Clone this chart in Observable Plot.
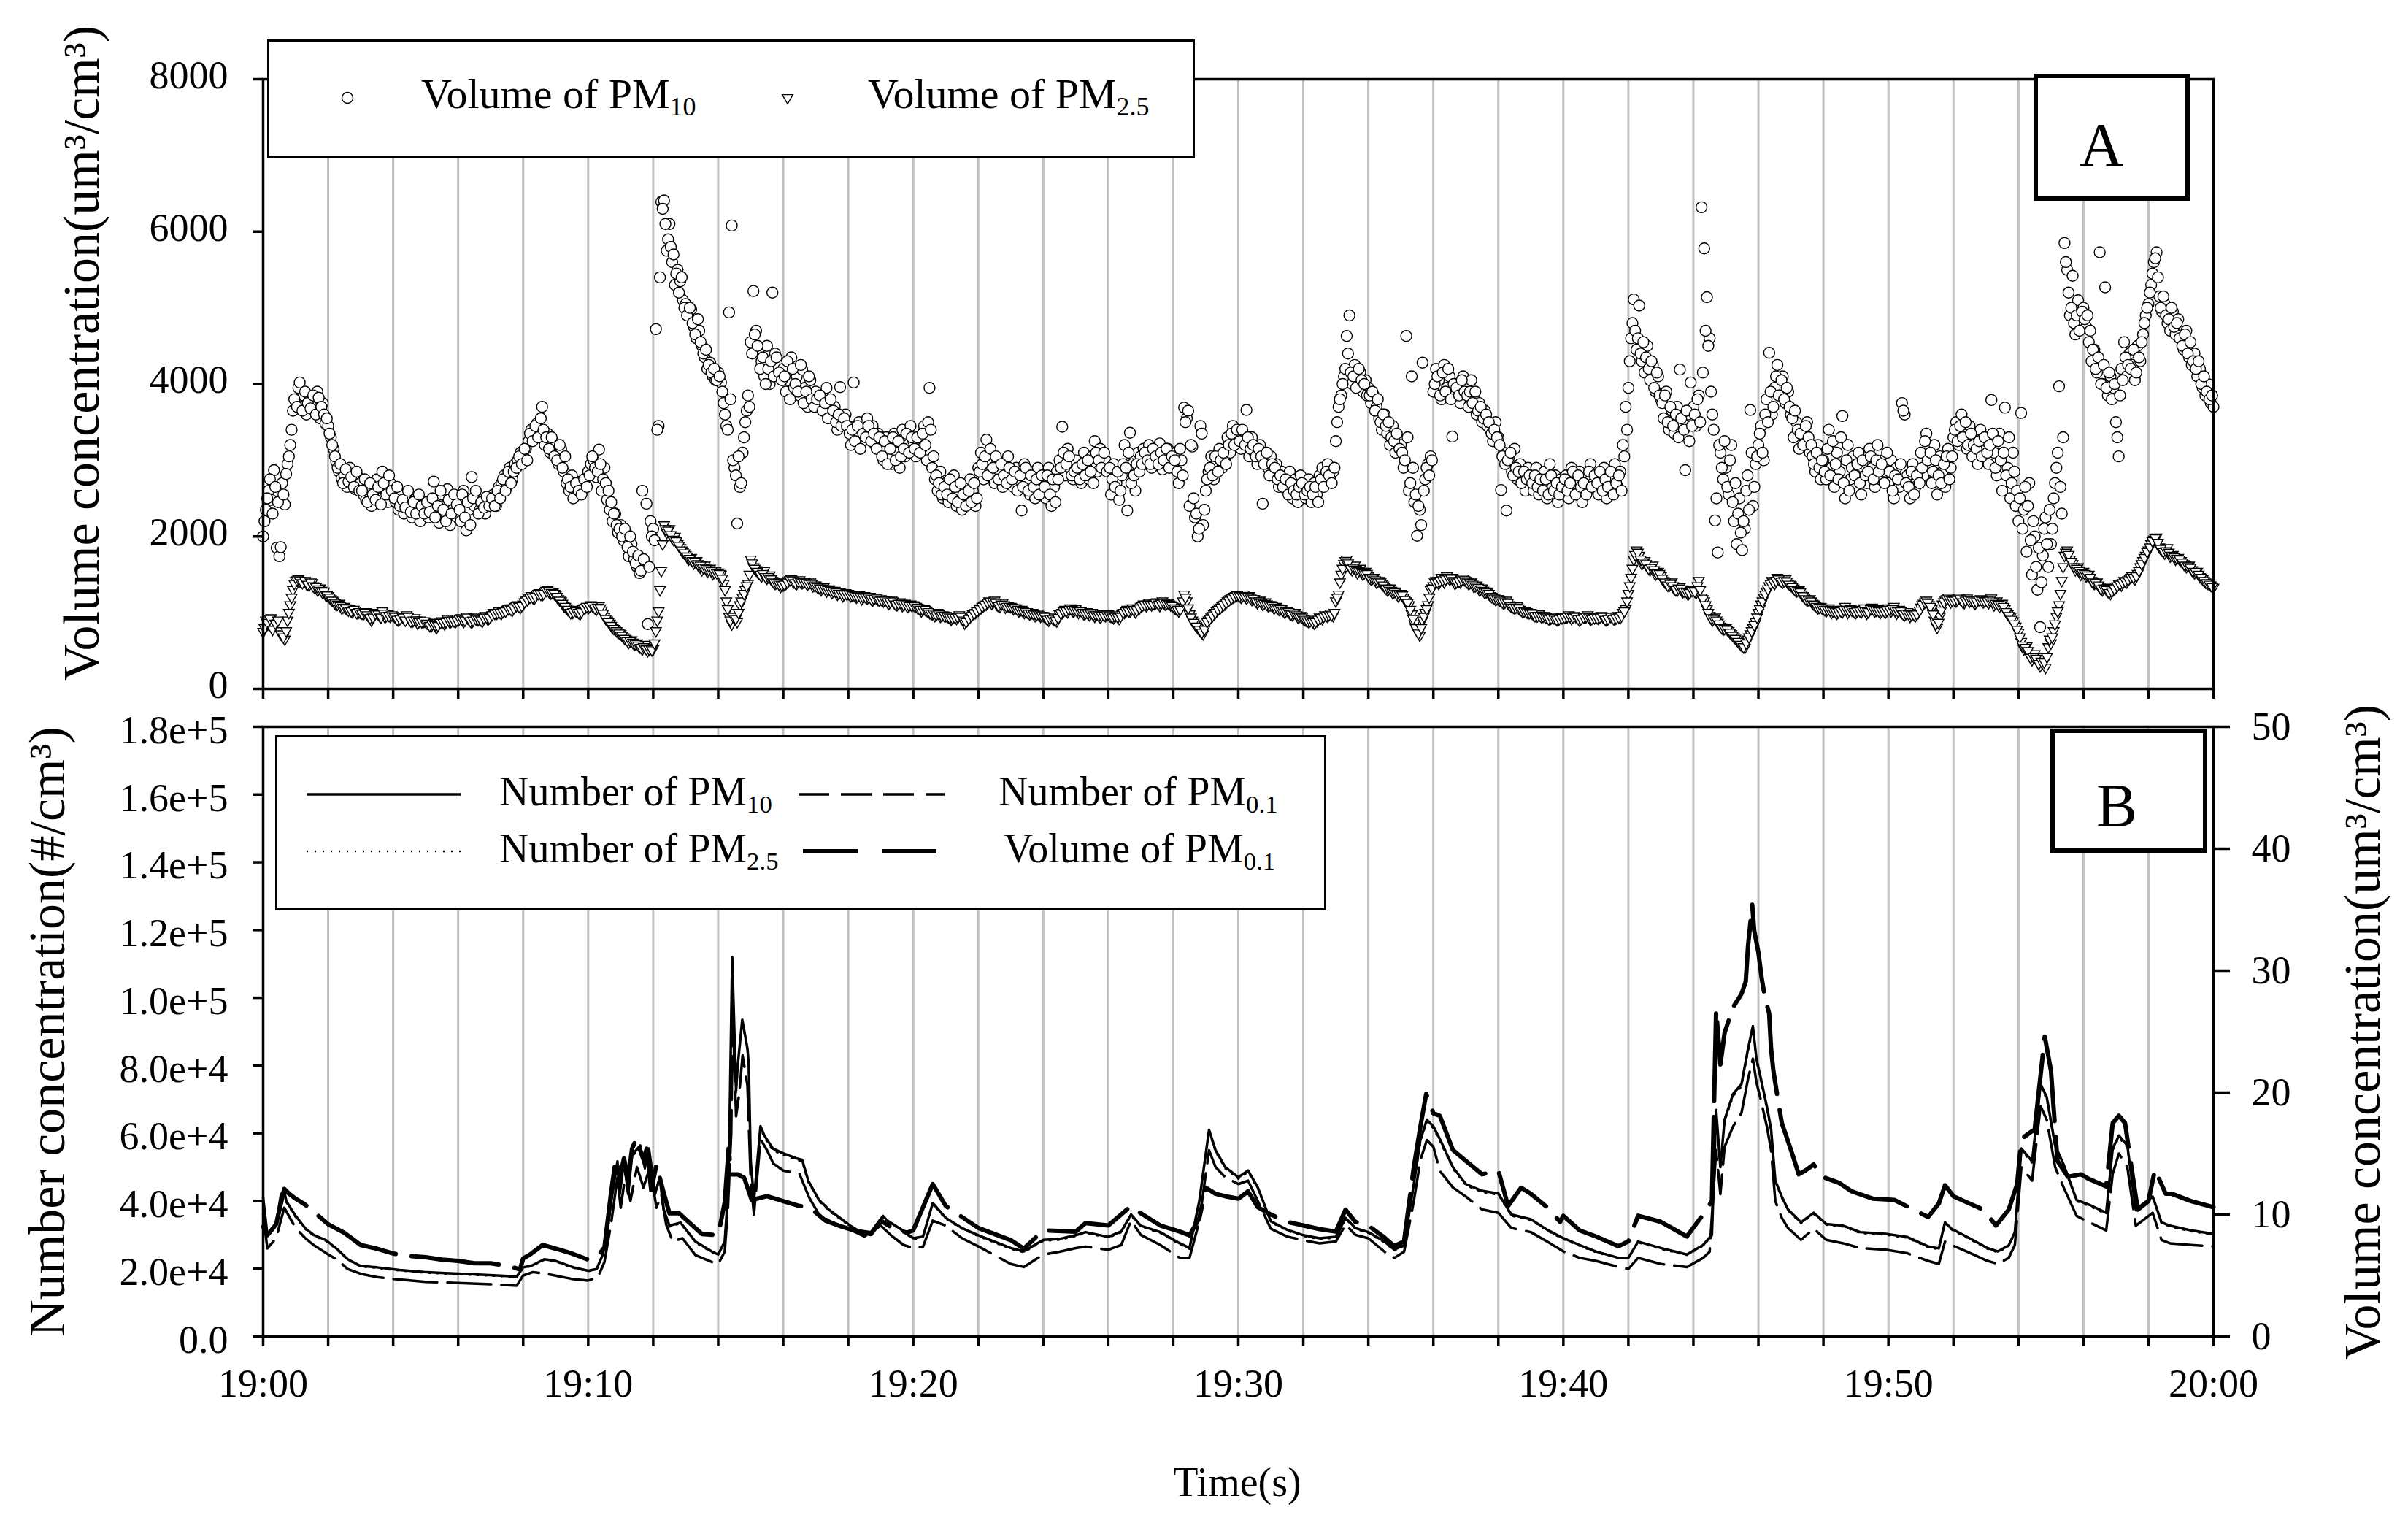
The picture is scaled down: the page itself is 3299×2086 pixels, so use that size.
<!DOCTYPE html>
<html>
<head>
<meta charset="utf-8">
<script src="https://cdn.jsdelivr.net/npm/d3@7"></script>
<script src="https://cdn.jsdelivr.net/npm/@observablehq/plot@0.6"></script>
<style>
  html, body { margin: 0; padding: 0; background: #fff; }
  #wrap { position: relative; width: 3299px; height: 2086px; background: #fff; font-family: "Liberation Serif", "Times New Roman", serif; color: #000; overflow: hidden; }
  #wrap svg, #wrap svg text { font-family: "Liberation Serif", "Times New Roman", serif !important; }
  .abs { position: absolute; white-space: nowrap; }
  .box { position: absolute; box-sizing: border-box; background: #fff; }
  sub { font-size: 0.62em; vertical-align: -0.28em; line-height: 0; }
  .rot { position: absolute; white-space: nowrap; transform: translate(-50%, -50%) rotate(-90deg); line-height: 1; }
</style>
</head>
<body>
<div id="wrap">
  <div id="panelA" class="abs" style="left:0;top:0"></div>
  <div id="panelB" class="abs" style="left:0;top:960px"></div>

  <div class="box" style="left:366px;top:54px;width:1271px;height:162px;border:3px solid #000"></div>
  <div class="box" style="left:2786px;top:101px;width:214px;height:174px;border:6px solid #000"></div>
  <div class="box" style="left:377px;top:1007px;width:1440px;height:240px;border:3px solid #000"></div>
  <div class="box" style="left:2809px;top:998px;width:215px;height:170px;border:6px solid #000"></div>

  <svg id="legendSym" class="abs" style="left:0;top:0" width="3299" height="2086"></svg>

  <div class="abs" style="left:577px;top:100px;font-size:58px;line-height:58px">Volume of PM<sub>10</sub></div>
  <div class="abs" style="left:1189px;top:100px;font-size:58px;line-height:58px">Volume of PM<sub>2.5</sub></div>
  <div class="abs" style="left:2772px;top:157px;width:214px;text-align:center;font-size:84px;line-height:84px">A</div>

  <div class="abs" style="left:684px;top:1056px;font-size:56px;line-height:56px">Number of PM<sub>10</sub></div>
  <div class="abs" style="left:684px;top:1134px;font-size:56px;line-height:56px">Number of PM<sub>2.5</sub></div>
  <div class="abs" style="left:1368px;top:1056px;font-size:56px;line-height:56px">Number of PM<sub>0.1</sub></div>
  <div class="abs" style="left:1375px;top:1134px;font-size:56px;line-height:56px">Volume of PM<sub>0.1</sub></div>
  <div class="abs" style="left:2793px;top:1062px;width:214px;text-align:center;font-size:84px;line-height:84px">B</div>

  <div class="rot" style="left:112px;top:484px;font-size:70px">Volume concentration(um³/cm³)</div>
  <div class="rot" style="left:65px;top:1413px;font-size:70px">Number concentration(#/cm³)</div>
  <div class="rot" style="left:3237px;top:1414px;font-size:70px">Volume concentration(um³/cm³)</div>
  <div class="abs" style="left:1695px;top:2030px;transform:translate(-50%,-50%);font-size:56px;line-height:1">Time(s)</div>
</div>

<script>
// ---------------- tick labels ----------------
const xTickMinutes = [0,2,4,6,8,10,12,14,16,18,20,22,24,26,28,30,32,34,36,38,40,42,44,46,48,50,52,54,56,58,60];
const xLabelMinutes = [0,10,20,30,40,50,60];
const xTickLabels = ["19:00","19:10","19:20","19:30","19:40","19:50","20:00"];
const yTicksA = [0,2000,4000,6000,8000];
const yTickLabelsA = ["0","2000","4000","6000","8000"];
const yTicksB = [0,20000,40000,60000,80000,100000,120000,140000,160000,180000];
const yTickLabelsB = ["0.0","2.0e+4","4.0e+4","6.0e+4","8.0e+4","1.0e+5","1.2e+5","1.4e+5","1.6e+5","1.8e+5"];
const yTicksR = [0,10,20,30,40,50];
const yTickLabelsR = ["0","10","20","30","40","50"];

// ---------------- Panel A: volume concentration (um3/cm3) ----------------
// readings every 5 s from 19:00:00 (one row per minute)
const volPM10 = [
2000,2350,2600,2480,2870,1850,1740,2700,2420,2950,3200,3650,
3800,3950,3700,3850,3600,3780,3700,3650,3900,3550,3750,3480,
3450,3300,3150,2980,2850,2760,2800,2650,2900,2700,2620,2780,
2700,2550,2480,2650,2400,2600,2750,2500,2850,2620,2450,2700,
2600,2450,2350,2550,2300,2500,2400,2250,2480,2350,2200,2420,
2380,2250,2450,2720,2300,2180,2550,2400,2620,2150,2350,2500,
2450,2200,2600,2080,2350,2780,2400,2500,2350,2450,2300,2480,
2450,2550,2400,2650,2700,2800,2650,2900,2750,2950,3000,3100,
3050,3150,3250,3400,3350,3480,3300,3700,3200,3350,3100,3250,
3100,2950,3150,2850,2700,2600,2800,2550,2650,2720,2600,2700,
2850,2950,3000,2780,3140,2600,2900,2480,2350,2200,2300,2050,
2150,1950,2050,1740,1900,1700,1600,1520,2600,1650,850,2200,
2100,4720,3450,6390,6410,5750,6100,5600,5300,5500,5350,5100,
5050,4900,4980,4750,4600,4700,4500,4350,4200,4280,4100,4050,
4150,4020,3750,3450,4940,6080,2900,2170,2650,3100,3500,3850,
4550,5220,4700,4450,4300,4100,4500,4000,5200,4400,4250,4100,
4200,3900,4050,4350,3950,4100,3850,4190,3950,3700,4050,3850,
3900,3700,3800,3650,3950,3600,3550,3700,3400,3960,3500,3600,
3450,3200,4020,3300,3500,3250,3400,3550,3300,3450,3200,3350,
3150,3000,3300,3050,2950,3350,3100,2900,3400,3050,3200,3450,
3250,3050,3300,3150,3450,3000,3950,2900,2750,2600,2850,2500,
2700,2450,2600,2800,2400,2550,2350,2650,2480,2750,2600,2400,
2900,3100,2750,3270,2950,2800,2700,3000,2850,2650,2950,3050,
2800,2650,2900,2750,2340,2950,2700,2550,2850,2500,2900,2650,
2750,2500,2900,2400,2650,2850,3000,3440,2800,3150,2900,2750,
3000,2850,2700,3100,2900,2750,3050,3250,2850,3150,2950,3000,
2850,2550,2950,2700,2480,2800,3200,2340,3360,2950,2600,3100,
3050,3150,2950,3200,2900,3100,3000,3220,2880,3050,3150,2950,
2900,3100,2700,3000,3690,3550,2400,3180,2250,2000,3450,2150,
2600,2850,3050,2750,2950,3150,2900,3000,3300,3100,3450,3250,
3350,3150,3250,3660,3050,3300,3100,2950,3200,2430,3000,2900,
3050,2800,2950,2650,2850,2700,2600,2850,2500,2750,2450,2800,
2650,2500,2750,2450,2700,2550,2800,2900,2700,2950,2750,2850,
3250,3700,3850,4100,4630,4900,4000,4250,3950,4150,3900,4050,
3950,3750,3850,3700,3550,3400,3600,3350,3200,3450,3100,3300,
3200,2900,4630,2600,4100,2450,2010,2350,4280,2750,2950,3050,
3900,4200,4050,3800,4250,3950,4100,3310,3850,4000,3750,4100,
3950,3700,4050,3800,3600,3750,3500,3650,3450,3400,3250,3500,
3300,2610,3100,2340,3000,2850,3150,2750,2950,2800,2600,2900,
2750,2600,2900,2550,2700,2850,2500,2950,2650,2800,2450,2750,
2650,2800,2500,2900,2700,2550,2850,2450,2750,2600,2950,2700,
2800,2550,2700,2900,2500,2750,2600,2950,2650,2850,3200,3700,
3950,4600,5110,4450,5030,4300,4150,4500,4050,4250,3900,4100,
3800,3550,3900,3400,3650,3350,3700,4190,3500,2870,3600,4020,
3700,3450,3850,6320,5780,5140,4600,3600,2210,1790,3100,2750,
2900,2550,3200,2200,1900,2500,1820,2100,2800,3660,2400,2950,
3200,3450,3000,3800,4410,3600,3950,4250,3850,4100,3750,3900,
3600,3300,3500,3150,3400,3250,3500,3100,3050,2850,3200,2750,
3000,2750,3400,2900,2650,3100,2850,3580,2500,3200,2750,3050,
2800,3100,2550,2950,2700,3150,2900,2650,3200,2750,3000,2850,
2700,3000,2500,2900,2650,3750,3600,2800,2500,2950,2650,2850,
3100,2800,3350,2950,2700,3200,2550,3050,2850,2650,3150,2900,
3300,3500,3200,3600,3350,3150,3450,3050,3300,2950,3400,3150,
3250,2950,3790,3100,2800,3350,2600,3690,2900,2500,3100,2400,
2200,3620,2350,1800,2700,1500,2000,1300,810,1750,2250,1600,
1900,2500,2900,3970,2300,5850,5500,4900,5420,4650,5100,4800,
5000,4750,4550,4300,4450,4150,5730,4000,5270,3850,4100,3950,
3500,3050,4200,4550,4100,4400,4250,4050,4500,4300,4650,4900,
5050,5300,5600,5730,5150,4950,5050,4800,4700,4950,4650,4850,
4600,4450,4700,4350,4250,4400,4100,4200,3950,3850,4000,3750,
3700];
// readings in between (every 5 s from 19:00:02.5)
const volPM10mid = [
2200,2500,2750,2300,2650,2450,1860,2550,2820,3050,3400,3800,
3700,4020,3650,3900,3750,3680,3850,3600,3820,3700,3600,3550,
3350,3200,3050,2900,2950,2700,2880,2720,2780,2650,2850,2600,
2600,2750,2450,2700,2550,2480,2650,2420,2700,2550,2800,2600,
2500,2650,2400,2480,2380,2600,2320,2450,2300,2550,2400,2300,
2450,2320,2500,2250,2400,2600,2350,2200,2480,2300,2550,2420,
2350,2550,2250,2450,2150,2500,2600,2300,2450,2380,2520,2400,
2500,2400,2600,2500,2750,2600,2850,2700,2850,2900,3050,2950,
3150,3000,3350,3250,3450,3300,3550,3400,3300,3150,3300,3050,
3000,3200,2900,3050,2750,2650,2500,2700,2600,2550,2750,2650,
2800,3050,2900,2850,2950,2750,2700,2600,2450,2300,2150,2100,
2000,2100,1860,2000,1800,1650,1750,1550,1700,2430,1600,2000,
1950,3400,5400,6300,6100,5900,5800,5700,5450,5200,5400,5000,
4900,5000,4800,4650,4850,4550,4400,4450,4250,4150,4200,4050,
4100,3900,3600,3400,3800,3000,2800,3050,2700,3300,3650,3700,
4400,4650,4500,4200,4350,4000,4200,4300,4100,4350,4150,4050,
4100,4300,3800,4200,4000,3900,4250,3750,3900,4100,3800,3700,
3800,3850,3650,3750,3550,3800,3650,3500,3600,3450,3550,3450,
3350,3400,3250,3450,3150,3350,3300,3450,3250,3350,3150,3300,
3050,3250,2950,3150,3300,3000,3250,3050,3150,3350,3100,3300,
3150,3300,3100,3350,3200,3500,3400,3050,2800,2700,2550,2650,
2550,2750,2500,2650,2450,2700,2550,2400,2600,2450,2700,2500,
2850,2950,3050,2800,3150,2900,3050,2750,2950,2800,2700,2900,
2750,2850,2600,2800,2650,2900,2600,2800,2650,2750,2550,2800,
2650,2800,2550,2750,2450,2750,2900,3100,2950,3050,2800,2850,
2900,2750,2950,2800,3000,2850,2700,3100,3000,2900,3100,2850,
2900,2750,2650,2850,2600,2950,2900,3100,2700,2800,2950,2850,
2950,3100,3000,2950,3150,3050,2950,3100,3000,3150,2900,3050,
3000,2850,3150,2800,3500,3650,3200,2500,2300,2100,3350,2350,
2750,2900,2800,3050,2850,3000,3100,2950,3200,3350,3200,3400,
3250,3400,3200,3300,3150,3200,3050,3150,3050,2950,3100,2800,
2950,2900,2750,2800,2650,2750,2550,2700,2600,2550,2650,2700,
2550,2600,2650,2550,2650,2450,2750,2650,2850,2800,2700,2900,
3500,3800,4000,4200,4400,4150,4100,3950,4200,4050,4000,3850,
3850,3900,3650,3800,3500,3600,3450,3500,3300,3250,3350,3150,
3100,3000,3300,2700,2900,2550,2400,2150,2600,2900,2800,3000,
4000,4100,3850,4150,3900,4200,3800,4000,3950,3850,4050,3900,
3850,3900,3750,3900,3650,3700,3550,3600,3500,3350,3400,3300,
3200,3050,2950,3000,3100,2800,2900,2850,2700,2850,2750,2800,
2700,2800,2650,2750,2600,2750,2550,2800,2600,2700,2550,2650,
2750,2600,2700,2850,2550,2800,2650,2700,2550,2850,2650,2800,
2700,2850,2600,2750,2650,2850,2550,2700,2800,2600,3050,3400,
4300,4800,4700,4600,4400,4550,4350,4200,4300,3950,4150,3850,
3750,3850,3500,3700,3450,3600,3300,3550,3400,3650,3250,3450,
3600,3800,3500,4150,4700,4500,3900,3400,2500,3200,2900,3250,
2650,3000,2450,2700,2300,2050,2200,2600,2350,3100,2650,3050,
3350,3100,3600,3500,3900,3700,4100,3850,4050,3800,3950,3700,
3550,3650,3400,3350,3200,3450,3300,3200,2950,3100,2900,3000,
2850,3150,2800,3250,2950,2750,3300,2700,3000,2600,2900,2800,
2950,2700,3000,2800,2850,3050,2750,3000,2850,2950,2700,3100,
2850,2600,2800,2750,2950,3650,2700,2650,2850,2550,2800,2700,
2900,3250,3000,3100,2850,3000,2800,2700,2950,3050,2750,3050,
3400,3250,3450,3300,3500,3200,3350,3200,3150,3250,3050,3300,
3100,3200,3350,2900,3250,3000,3100,2800,3300,2700,2850,2600,
2500,2100,2650,2400,1950,2200,1600,1850,1400,2100,1900,2350,
2100,2700,3100,2650,3300,5600,5200,5000,4800,4900,4700,4950,
4850,4900,4700,4450,4200,4350,4000,4250,3950,4150,3800,4000,
3300,3850,4050,4350,4250,4200,4450,4150,4350,4550,4800,5000,
5200,5450,5650,5400,5000,5150,4900,4850,5000,4750,4800,4600,
4500,4650,4400,4550,4300,4200,4300,4000,4100,3900,3800,3850];

const volPM25 = [
750,900,850,930,820,880,760,700,650,900,1100,1300,
1420,1440,1400,1410,1380,1360,1390,1330,1300,1320,1260,1240,
1220,1180,1150,1100,1120,1060,1080,1040,1050,1010,1030,990,
1000,980,1010,950,900,970,1000,960,1020,940,980,950,
960,930,900,950,920,970,910,880,930,860,900,870,
880,850,820,870,800,860,890,850,920,870,900,880,
900,930,880,950,910,870,940,900,920,890,960,910,
950,1000,980,1020,990,1030,1040,1060,1030,1080,1100,1070,
1110,1160,1190,1220,1180,1240,1260,1230,1280,1300,1250,1270,
1230,1180,1150,1090,1060,1020,990,1040,1010,980,1050,1070,
1060,1100,1080,1040,1090,1030,950,900,860,800,780,740,
720,680,650,610,640,580,600,550,520,580,500,540,
520,760,1020,1550,2150,2050,2100,1980,2000,1900,1850,1800,
1760,1700,1720,1650,1680,1600,1560,1620,1540,1580,1510,1550,
1530,1500,1380,1150,950,850,1000,880,1100,1200,1300,1380,
1700,1600,1560,1520,1480,1550,1450,1490,1420,1380,1400,1340,
1360,1380,1420,1440,1400,1380,1430,1390,1410,1370,1400,1350,
1360,1330,1300,1340,1280,1310,1260,1290,1240,1270,1220,1260,
1250,1220,1240,1200,1230,1180,1220,1190,1210,1160,1200,1170,
1180,1150,1170,1120,1160,1130,1100,1140,1090,1120,1080,1110,
1100,1080,1060,1020,1050,1030,1000,980,960,1000,950,970,
960,940,910,950,920,970,930,860,900,940,980,1000,
1030,1060,1090,1110,1150,1120,1160,1100,1080,1130,1070,1090,
1080,1050,1060,1020,1040,1000,1010,980,1000,960,990,950,
960,930,900,940,910,890,980,1000,1040,1010,1060,1020,
1050,1000,1030,980,1010,970,1000,950,990,940,980,960,
980,950,930,970,920,990,1000,1040,1020,1060,1010,1050,
1080,1110,1090,1130,1100,1120,1140,1090,1150,1110,1130,1100,
1080,1050,1020,1070,1240,1150,980,900,850,800,760,720,
850,900,940,980,1020,1060,1090,1110,1150,1180,1200,1220,
1230,1200,1240,1190,1220,1170,1180,1130,1160,1110,1140,1090,
1100,1070,1080,1040,1050,1010,1030,990,970,1000,940,960,
920,900,880,910,860,890,940,920,970,950,990,960,
1150,1240,1500,1640,1700,1600,1560,1620,1520,1580,1500,1540,
1480,1440,1460,1400,1420,1380,1340,1300,1320,1260,1280,1220,
1250,1200,1150,1100,980,850,760,700,900,1000,1100,1300,
1350,1420,1380,1460,1400,1480,1440,1460,1380,1420,1400,1450,
1420,1380,1400,1340,1360,1300,1320,1260,1280,1220,1200,1170,
1180,1150,1120,1160,1100,1080,1060,1090,1040,1010,1030,990,
1000,970,950,980,940,960,930,910,950,920,900,940,
950,930,970,920,960,940,900,950,930,970,910,940,
950,920,960,930,900,950,940,910,960,930,1000,1050,
1250,1460,1700,1820,1750,1640,1680,1600,1560,1620,1500,1540,
1480,1420,1380,1350,1400,1310,1290,1340,1270,1300,1240,1280,
1300,1260,1420,1200,1150,1050,960,900,940,870,820,780,
800,760,720,680,640,600,560,540,650,720,800,880,
1000,1110,1200,1280,1350,1420,1380,1460,1420,1400,1440,1380,
1360,1320,1280,1300,1240,1200,1160,1180,1120,1090,1060,1080,
1050,1020,1060,1000,1030,990,1040,1010,1080,1000,1050,1020,
1000,1040,1010,1060,990,1030,1070,1020,1050,1000,1040,1010,
1060,1020,1080,990,1040,1000,970,1010,950,990,960,1000,
1070,1120,1160,1100,1050,900,805,950,1110,1160,1200,1140,
1180,1150,1200,1160,1130,1190,1150,1170,1120,1160,1180,1140,
1170,1130,1190,1100,1150,1080,1120,1050,980,940,890,820,
740,620,520,560,440,380,460,360,300,420,280,550,
600,760,950,1100,1420,1750,1820,1700,1640,1560,1600,1500,
1540,1480,1500,1420,1380,1400,1330,1300,1330,1280,1250,1300,
1330,1380,1360,1420,1400,1450,1480,1440,1510,1600,1680,1750,
1820,1900,1960,1990,1860,1820,1780,1850,1740,1760,1700,1720,
1680,1640,1600,1620,1560,1520,1540,1470,1440,1400,1380,1360,
1330];
const volPM25mid = [
800,870,920,780,860,900,720,680,760,1000,1200,1380,
1430,1420,1390,1420,1370,1400,1350,1340,1310,1290,1280,1230,
1200,1160,1130,1110,1090,1070,1060,1030,1020,1040,1000,1010,
990,1000,970,930,940,990,980,940,990,960,960,970,
950,910,920,940,900,950,890,900,900,880,880,890,
860,830,850,840,830,870,870,880,900,890,890,900,
920,910,900,930,890,900,920,910,900,930,940,930,
970,990,1000,1000,1010,1020,1050,1040,1060,1090,1080,1090,
1140,1170,1200,1200,1210,1250,1240,1250,1290,1280,1260,1250,
1210,1160,1120,1080,1040,1000,1010,1020,1000,1010,1060,1080,
1080,1090,1060,1070,1060,990,920,880,830,790,760,730,
700,660,630,630,610,590,570,540,550,520,520,510,
600,900,1300,1900,2100,2080,2020,1960,1940,1880,1820,1780,
1740,1710,1680,1670,1640,1620,1590,1580,1560,1550,1530,1520,
1510,1450,1300,1050,900,950,920,1000,1150,1250,1350,1500,
1650,1580,1540,1500,1510,1470,1470,1440,1400,1390,1370,1360,
1370,1400,1430,1420,1390,1410,1400,1400,1390,1380,1380,1360,
1340,1320,1320,1310,1300,1290,1280,1270,1250,1250,1240,1240,
1240,1230,1220,1210,1210,1200,1200,1200,1180,1180,1190,1160,
1160,1160,1140,1140,1150,1110,1120,1120,1100,1100,1090,1090,
1090,1070,1040,1040,1040,1010,990,990,970,980,960,960,
950,930,930,930,940,950,900,880,920,960,990,1020,
1050,1080,1100,1130,1140,1140,1130,1090,1110,1100,1080,1080,
1070,1060,1040,1030,1020,1010,990,990,980,970,970,960,
950,910,920,920,900,930,990,1020,1020,1040,1040,1030,
1020,1020,1000,990,990,990,970,970,960,960,960,970,
960,940,950,940,950,1000,1020,1020,1040,1030,1030,1060,
1090,1100,1110,1110,1110,1130,1110,1120,1130,1120,1110,1090,
1060,1040,1040,1150,1200,1060,940,870,820,780,740,780,
880,920,960,1000,1040,1070,1100,1130,1160,1190,1210,1230,
1220,1220,1210,1210,1190,1180,1150,1150,1130,1120,1110,1100,
1090,1070,1060,1050,1030,1020,1010,980,990,970,950,940,
910,890,890,880,880,910,930,950,960,970,970,1000,
1200,1400,1580,1680,1650,1580,1590,1570,1550,1540,1520,1510,
1460,1450,1430,1410,1400,1360,1320,1310,1290,1270,1250,1240,
1230,1170,1130,1040,920,800,730,800,950,1050,1200,1320,
1400,1400,1420,1430,1440,1460,1450,1420,1400,1410,1430,1430,
1400,1390,1370,1350,1330,1310,1290,1270,1250,1210,1190,1180,
1160,1140,1140,1130,1090,1070,1070,1060,1030,1020,1010,1000,
990,960,960,960,950,940,920,930,930,910,920,930,
940,950,950,940,950,920,920,940,950,940,920,930,
930,940,950,910,920,950,920,930,940,960,1020,1150,
1350,1580,1760,1790,1700,1660,1640,1580,1590,1560,1520,1510,
1450,1400,1360,1380,1350,1300,1320,1310,1280,1270,1260,1290,
1280,1350,1300,1180,1100,1000,930,920,900,850,800,790,
780,740,700,660,620,580,550,600,680,760,840,940,
1050,1150,1240,1310,1380,1400,1420,1440,1410,1420,1410,1370,
1340,1300,1290,1270,1220,1180,1170,1150,1110,1080,1070,1060,
1040,1040,1030,1020,1010,1010,1020,1040,1040,1030,1030,1010,
1020,1020,1030,1020,1010,1050,1040,1030,1020,1020,1020,1030,
1040,1050,1030,1020,1020,980,990,980,970,970,980,1030,
1100,1140,1130,1080,980,850,870,1030,1140,1180,1170,1160,
1160,1170,1180,1140,1160,1170,1160,1140,1140,1170,1160,1150,
1150,1160,1140,1120,1110,1100,1080,1010,960,910,850,780,
680,570,540,500,410,420,400,330,360,350,420,650,
680,850,1020,1250,1600,1790,1760,1670,1600,1580,1550,1520,
1510,1490,1460,1400,1390,1360,1310,1320,1300,1260,1280,1310,
1350,1370,1390,1410,1430,1460,1460,1480,1550,1640,1720,1800,
1860,1940,1980,1920,1840,1800,1810,1790,1750,1730,1710,1700,
1660,1620,1610,1590,1540,1530,1500,1460,1420,1390,1370,1340];

// ---------------- Panel B: number concentration (#/cm3), time in minutes after 19:00 ----------------
const tNum10 = [0,0.13,0.39,0.55,0.65,0.71,0.97,1.29,1.55,1.94,2.3,2.6,3.0,3.5,4.2,4.95,5.6,6.5,7.2,7.8,8.0,8.26,8.65,9.0,9.55,10.0,10.26,10.45,10.58,10.7,10.9,10.97,11.1,11.23,11.35,11.6,11.74,11.87,12.06,12.2,12.32,12.5,12.84,13.3,13.8,14.0,14.2,14.3,14.35,14.43,14.55,14.6,14.74,14.9,14.94,15.0,15.1,15.3,15.42,15.68,16.0,16.4,16.58,16.77,17.1,17.4,17.8,18.06,18.3,18.7,19.07,19.2,19.6,20.0,20.3,20.6,21.0,21.5,22.0,22.5,23.0,23.4,24.0,24.5,25.0,25.3,26.0,26.4,26.7,27.0,27.6,28.2,28.5,28.8,29.1,29.3,29.6,30.0,30.3,30.6,31.0,31.5,32.0,32.5,33.0,33.3,33.6,34.0,34.5,34.8,35.1,35.4,35.6,35.8,36.0,36.2,36.6,37.0,37.5,38.0,38.4,39.0,39.5,40.0,40.5,41.0,41.7,42.0,42.3,43.0,43.8,44.3,44.57,44.7,44.83,44.96,45.22,45.48,45.68,45.83,45.94,46.07,46.26,46.39,46.52,46.72,46.91,47.31,47.7,48.09,48.61,49.13,49.92,50.57,51.22,51.55,51.74,51.94,52.52,53.05,53.37,53.7,53.89,54.09,54.42,54.68,54.87,55.13,55.39,55.79,56.18,56.7,56.9,57.09,57.35,57.61,57.87,58.13,58.4,58.66,59.31,60];
const numPM10 = [41000,30000,33000,42000,43000,40000,36000,32000,30000,28400,25600,22800,20800,20400,19600,19000,18700,18300,18000,17700,20400,20900,22800,22300,20400,19400,19900,24200,29900,39400,51700,42000,51700,42000,53600,56400,49800,55500,42200,47000,37500,32700,33600,28000,25100,24200,28000,42000,63000,112000,72600,80000,93500,85000,80000,51700,40300,62100,59300,55500,54100,52600,52200,46000,40300,37500,34600,32700,31300,30800,35600,34200,31800,29000,29500,39400,35000,32000,29900,28000,26100,25100,28500,28800,29900,30800,29400,31000,36000,32700,30800,27500,26100,40000,61000,55000,50000,47000,49000,44000,34000,31500,29900,29000,29400,35000,32000,30800,28000,25600,27000,45000,58000,64000,62000,58300,50000,45000,43000,42200,36000,34600,31500,29000,27000,25100,23200,23200,28000,26100,24200,27000,30000,66900,50000,64000,71600,74500,84900,91600,82000,76400,67900,61200,46000,41300,37500,33700,36500,33200,32700,30800,30300,29400,26600,26000,33700,31800,28900,26100,25100,26900,30800,55500,51700,74500,70700,56400,50800,40300,38900,36500,55500,59300,56400,37500,39400,41300,33700,32700,31300,30300];
const numPM25 = [40600,29700,32700,41600,42600,39600,35600,31700,29700,28100,25300,22600,20600,20200,19400,18800,18500,18100,17800,17500,20200,20700,22600,22100,20200,19200,19700,24000,29600,39000,51200,41600,51200,41600,53100,55800,49300,54900,41800,46500,37100,32400,33300,27700,24800,24000,27700,41600,62400,110900,71900,79200,92600,84200,79200,51200,39900,61500,58700,54900,53600,52100,51700,45500,39900,37100,34300,32400,31000,30500,35200,33900,31500,28700,29200,39000,34700,31700,29600,27700,25800,24800,28200,28500,29600,30500,29100,30700,35600,32400,30500,27200,25800,39600,60400,54500,49500,46500,48500,43600,33700,31200,29600,28700,29100,34700,31700,30500,27700,25300,26700,44600,57400,63400,61400,57700,49500,44600,42600,41800,35600,34300,31200,28700,26700,24800,23000,23000,27700,25800,24000,26700,29700,66200,49500,63400,70900,73800,84100,90700,81200,75600,67200,60600,45500,40900,37100,33400,36100,32900,32400,30500,30000,29100,26300,25700,33400,31500,28600,25800,24800,26600,30500,54900,51200,73800,70000,55800,50300,39900,38500,36100,54900,58700,55800,37100,39000,40900,33400,32400,31000,30000];

const tNum01 = [0,0.13,0.4,0.65,1.0,1.3,1.55,1.94,2.3,2.6,3.0,3.5,4.2,5.0,6.0,7.0,7.8,8.0,8.3,8.7,9.5,10.0,10.3,10.5,10.7,10.9,11.0,11.15,11.3,11.5,11.7,11.9,12.1,12.25,12.4,12.6,12.9,13.3,13.8,14.0,14.2,14.3,14.4,14.45,14.55,14.65,14.75,14.9,15.0,15.1,15.3,15.5,15.7,16.0,16.5,16.8,17.1,17.5,18.0,18.5,19.0,19.3,19.7,20.0,20.3,20.6,21.0,21.5,22.0,22.5,23.0,23.4,24.0,24.5,25.0,25.3,26.0,26.4,26.7,27.0,27.6,28.2,28.5,28.8,29.1,29.3,29.6,30.0,30.3,30.6,31.0,31.5,32.0,32.5,33.0,33.3,33.6,34.0,34.5,34.8,35.1,35.4,35.6,35.8,36.0,36.2,36.6,37.0,37.5,38.0,38.4,39.0,39.5,40.0,40.5,41.0,41.7,42.0,42.3,43.0,43.8,44.3,44.5,44.7,44.83,44.96,45.22,45.48,45.68,45.83,45.94,46.07,46.26,46.39,46.52,46.72,46.91,47.31,47.7,48.09,48.61,49.13,49.92,50.57,51.22,51.55,51.74,51.94,52.52,53.05,53.37,53.7,53.89,54.09,54.42,54.68,54.87,55.13,55.39,55.79,56.18,56.7,56.9,57.09,57.35,57.61,57.87,58.13,58.4,58.66,59.31,60];
const numPM01 = [36000,26000,29000,38000,32000,29000,27000,24600,22500,19900,18500,17500,16800,16100,15800,15400,15000,18000,19000,18500,17000,16500,17500,22000,33000,47000,38000,48000,40000,50000,44000,50000,38000,42000,33000,28000,29000,24000,22000,21400,25000,38000,60000,95000,65000,72000,83000,74000,46000,36000,58300,55000,51000,49000,48000,41000,36000,33700,31800,29500,32700,30000,27000,26100,26500,34200,32700,29000,26600,24000,21400,20500,24200,25000,26100,26500,25600,27000,34200,30000,27000,23200,23200,34000,55000,50000,47000,45000,46000,40000,31800,29500,28400,27500,28000,33000,30000,29000,25000,23200,25000,40000,52000,58000,56000,48900,44000,41300,37500,36500,32000,30800,28000,25100,23200,22300,20500,19900,23200,21400,20500,23200,25000,55000,42000,56000,62000,66000,76000,82000,75000,70000,62000,55000,40000,35000,32000,28500,31800,28500,27500,26100,25600,24600,22300,21400,28000,27000,24600,22300,21400,23200,27000,50000,46000,68000,64000,50000,44000,35600,33700,31300,48000,54000,50000,32700,34600,36500,28500,27500,27000,26600];

// volume of PM0.1 (um3/cm3, right axis)
const tVol01 = [0,0.13,0.4,0.65,0.8,1.0,1.3,1.7,2.0,2.5,3.0,3.5,4.0,4.5,5.0,5.5,6.0,6.5,7.0,7.5,7.9,8.0,8.2,8.6,9.0,9.5,10.0,10.3,10.5,10.7,10.85,10.97,11.1,11.23,11.35,11.48,11.7,11.8,11.94,12.1,12.3,12.5,12.8,13.0,13.5,14.0,14.2,14.32,14.4,14.6,14.8,15.03,15.5,16.0,16.5,16.8,17.3,17.8,18.3,18.7,19.0,19.3,19.8,20.0,20.6,21.0,22.0,23.0,23.4,24.0,25.0,25.3,26.0,26.7,27.0,27.6,28.2,28.5,28.8,29.0,29.3,29.6,30.0,30.3,30.6,31.0,31.5,32.0,32.5,33.0,33.3,33.6,34.0,34.5,34.8,35.1,35.4,35.6,35.78,36.0,36.2,36.6,37.0,37.5,38.0,38.3,38.7,39.0,39.5,39.9,40.0,40.5,41.0,41.7,42.0,42.3,43.0,43.8,44.3,44.57,44.7,44.83,44.96,45.22,45.48,45.61,45.68,45.81,45.87,46.0,46.1,46.2,46.33,46.39,46.46,46.59,46.72,46.85,47.05,47.24,47.44,47.7,47.96,48.48,48.87,49.53,50.18,50.7,51.22,51.55,51.74,52.0,52.33,52.92,53.31,53.7,53.96,54.09,54.5,54.81,55.0,55.2,55.52,55.92,56.18,56.7,56.9,57.09,57.28,57.48,57.67,58.0,58.2,58.53,58.72,59.31,60];
const volPM01 = [9.0,8.3,9.2,12.1,11.7,11.3,10.8,9.9,9.2,8.5,7.5,7.2,6.8,6.6,6.5,6.3,6.2,6.0,6.0,5.8,5.5,6.4,6.7,7.5,7.2,6.8,6.3,6.6,7.3,11.7,14.6,13.0,14.6,13.0,15.4,16.2,14.5,15.4,12.0,14.1,12.0,10.1,10.1,9.6,8.4,8.3,11.0,15.4,13.3,13.3,13.0,11.2,11.5,11.1,10.7,10.6,9.5,9.0,8.6,8.4,9.5,9.0,8.5,8.7,12.5,10.7,8.9,7.9,7.2,8.7,8.6,9.3,9.1,10.7,10.1,9.1,8.6,8.3,9.7,12.2,11.7,11.5,11.3,11.9,10.6,10.0,9.4,9.1,8.8,8.6,10.4,9.4,9.1,8.1,7.4,7.8,13.9,17.2,19.9,18.3,18.1,15.3,14.4,13.3,13.6,10.7,12.2,11.7,10.6,9.4,9.9,8.7,8.2,7.4,7.8,9.9,9.4,8.2,10.0,11.1,26.8,22.3,24.9,27.0,28.1,29.1,32.0,35.4,33.3,31.5,29.4,27.8,26.5,23.6,21.8,19.6,17.5,16.5,14.9,13.3,13.6,14.1,13.1,12.6,11.9,11.3,11.2,10.5,9.8,10.9,12.4,11.5,11.1,10.4,9.1,10.4,12.5,16.2,17.0,24.6,21.8,14.4,13.1,13.3,12.9,12.3,17.5,18.1,17.5,13.8,10.4,11.1,13.7,11.7,11.7,11.1,10.6];

// ---------------- build ----------------
const SAMPLE_MIN = 5 / 60;            // scatter sampling interval (minutes)
const VOL_TO_LEFT = 180000 / 50;      // right axis 0–50 aligned with left axis 0–1.8e5

const sampled = (arr, offset) => arr.map((v, i) => ({t: (i + offset) * SAMPLE_MIN, v})).filter(d => d.t <= 60);
const pm10Pts = sampled(volPM10, 0).concat(sampled(volPM10mid, 0.5));
const pm25Pts = sampled(volPM25, 0).concat(sampled(volPM25mid, 0.5));
const pairs = (ts, vs, k = 1) => ts.map((t, i) => ({t, v: vs[i] * k})).filter(d => Number.isFinite(d.v));
const n10 = pairs(tNum10, numPM10);
const n25 = pairs(tNum10, numPM25);
const n01 = pairs(tNum01, numPM01);
const v01 = pairs(tVol01, volPM01, VOL_TO_LEFT);
const gridMinutes = xTickMinutes.filter(m => m > 0 && m < 60);

const triDown = {
  draw(context, size) {
    const w = Math.sqrt(size / Math.PI) * 1.05;
    context.moveTo(-w, -0.6 * w);
    context.lineTo(w, -0.6 * w);
    context.lineTo(0, 1.15 * w);
    context.closePath();
  }
};

const baseStyle = {
  fontFamily: "'Liberation Serif', 'Times New Roman', serif",
  fontSize: "54px",
  background: "transparent",
  overflow: "visible",
  maxWidth: "none",
  color: "#000"
};

const lookup = (ticks, labels) => d => {
  const i = ticks.findIndex(t => Math.abs(t - d) < 1e-6);
  return i >= 0 ? labels[i] : "";
};

const chartA = Plot.plot({
  width: 3299, height: 960,
  marginLeft: 360, marginRight: 267, marginTop: 108, marginBottom: 17,
  style: baseStyle,
  x: {domain: [0, 60]},
  y: {domain: [0, 8000]},
  marks: [
    Plot.ruleX(gridMinutes, {stroke: "#c0c0c0", strokeWidth: 3}),
    Plot.dot(pm10Pts, {x: "t", y: "v", r: 7.5, fill: "white", stroke: "black", strokeWidth: 1.4}),
    Plot.dot(pm25Pts, {x: "t", y: "v", symbol: triDown, r: 7, fill: "white", stroke: "black", strokeWidth: 1.4}),
    Plot.frame({stroke: "black", strokeWidth: 3.5}),
    Plot.axisX(xTickMinutes, {tickSize: 14, strokeWidth: 3.5, tickFormat: () => "", label: null}),
    Plot.axisY(yTicksA, {tickSize: 14, strokeWidth: 3.5, text: null, label: null}),
    Plot.axisY(yTicksA, {tickSize: 0, tickPadding: 48, dy: -5, tickFormat: lookup(yTicksA, yTickLabelsA), label: null})
  ]
});
document.getElementById("panelA").appendChild(chartA);

const chartB = Plot.plot({
  width: 3299, height: 1126,
  marginLeft: 360, marginRight: 267, marginTop: 35, marginBottom: 256,
  style: baseStyle,
  x: {domain: [0, 60]},
  y: {domain: [0, 180000]},
  marks: [
    Plot.ruleX(gridMinutes, {stroke: "#c0c0c0", strokeWidth: 3}),
    Plot.line(v01, {x: "t", y: "v", stroke: "black", strokeWidth: 6, strokeDasharray: "120,22"}),
    Plot.line(n01, {x: "t", y: "v", stroke: "black", strokeWidth: 3.5, strokeDasharray: "60,14"}),
    Plot.line(n25, {x: "t", y: "v", stroke: "black", strokeWidth: 2.5, strokeDasharray: "2,9"}),
    Plot.line(n10, {x: "t", y: "v", stroke: "black", strokeWidth: 3.5}),
    Plot.frame({stroke: "black", strokeWidth: 3.5}),
    Plot.axisX(xTickMinutes, {tickSize: 14, tickPadding: 30, strokeWidth: 3.5, tickFormat: lookup(xLabelMinutes, xTickLabels), label: null}),
    Plot.axisY(yTicksB, {anchor: "left", tickSize: 14, strokeWidth: 3.5, text: null, label: null}),
    Plot.axisY(yTicksB, {anchor: "left", tickSize: 0, tickPadding: 48, dy: 5, tickFormat: lookup(yTicksB, yTickLabelsB), label: null}),
    Plot.axisY(yTicksR.map(v => v * VOL_TO_LEFT), {anchor: "right", tickSize: 22, tickPadding: 30, strokeWidth: 3.5,
      tickFormat: d => lookup(yTicksR, yTickLabelsR)(d / VOL_TO_LEFT), label: null})
  ]
});
document.getElementById("panelB").appendChild(chartB);

// ---------------- legend symbols ----------------
const sym = d3.select("#legendSym");
sym.append("circle").attr("cx", 476).attr("cy", 134).attr("r", 7.5)
  .attr("fill", "white").attr("stroke", "black").attr("stroke-width", 1.4);
sym.append("path").attr("transform", "translate(1079,134)")
  .attr("d", d3.symbol(triDown, Math.PI * 49)())
  .attr("fill", "white").attr("stroke", "black").attr("stroke-width", 1.4);
const legLine = (x1, x2, y, w, dash) => sym.append("line")
  .attr("x1", x1).attr("x2", x2).attr("y1", y).attr("y2", y)
  .attr("stroke", "black").attr("stroke-width", w).attr("stroke-dasharray", dash);
legLine(420, 631, 1088, 3.5, null);
legLine(420, 631, 1166, 2.5, "2,9");
legLine(1094, 1294, 1088, 3.5, "42,16");
legLine(1100, 1283, 1166, 6, "75,33");
</script>
</body>
</html>
